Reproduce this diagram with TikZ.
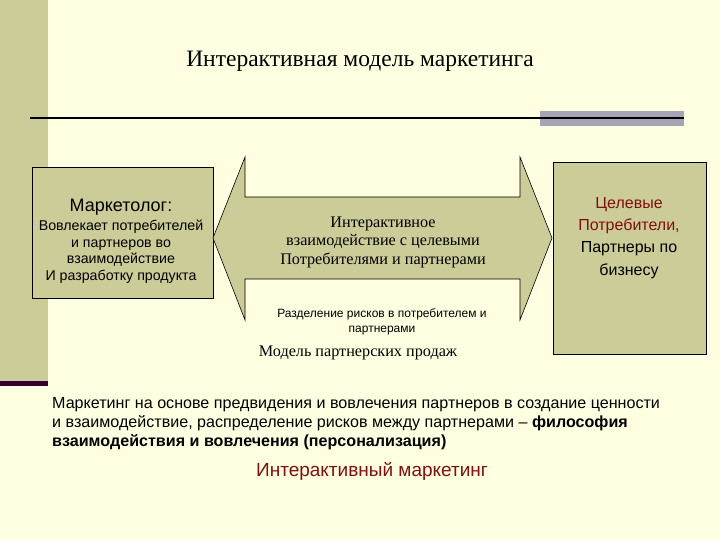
\documentclass[tikz,border=0pt]{standalone}
\usepackage{fontspec}
\setmainfont{Liberation Serif}
\setsansfont{Liberation Sans}
\definecolor{slidebg}{RGB}{255,255,225}
\definecolor{olive}{RGB}{204,204,153}
\definecolor{barGray}{RGB}{166,164,180}
\definecolor{darkPlum}{RGB}{51,0,51}
\definecolor{darkRed}{RGB}{128,16,16}

\begin{document}
\begin{tikzpicture}[x=1pt,y=-1pt,
    box/.style={draw=black,line width=1pt,fill=olive,inner sep=0pt},
    sanstext/.style={font=\sffamily\fontsize{14.2}{16.5}\selectfont,align=center,inner sep=0pt},
    seriftext/.style={font=\fontsize{16.2}{18.5}\selectfont,align=center,inner sep=0pt}]
	% slide background and decoration
	\useasboundingbox (0,0) rectangle (720,540);
	\fill[slidebg] (0,0) rectangle (720,540);
	\fill[olive] (0,0) rectangle (48,381);
	\fill[darkPlum] (0,381) rectangle (48,386);
	\fill[barGray] (540,111) rectangle (684,126);
	\draw[line width=2pt] (30,118) -- (684,118);

	\node[seriftext,font=\fontsize{23.5}{26}\selectfont] (title) at (360,61) {Интерактивная модель маркетинга};

	% left box
	\node[box,minimum width=181,minimum height=130] (marketer) at (122.5,233) {};
	\node[sanstext] (marketerText) at (121,241) {{\fontsize{18}{20}\selectfont Маркетолог:}\\[3pt]
		Вовлекает потребителей\\ и партнеров во\\ взаимодействие\\ И разработку продукта};

	% right box
	\node[box,minimum width=153,minimum height=191] (partners) at (629.5,258.5) {};
	\node[sanstext,font=\sffamily\fontsize{16}{22.3}\selectfont] (partnersText) at (629,238)
		{\textcolor{darkRed}{Целевые}\\ \textcolor{darkRed}{Потребители,}\\ Партнеры по\\ бизнесу};

	% double block arrow between the boxes
	\draw[fill=olive,line width=0.6pt] (213,238) -- (245,157) -- (245,197) -- (520,197) -- (520,157)
		-- (552,238) -- (520,320) -- (520,279) -- (245,279) -- (245,320) -- cycle;
	\node[seriftext] (talk) at (383,242) {Интерактивное\\ взаимодействие с целевыми\\ Потребителями и партнерами};
	\node[sanstext,font=\sffamily\fontsize{12}{15}\selectfont] (risk) at (382,322)
		{Разделение рисков в потребителем и\\ партнерами};
	\node[seriftext] (model) at (358,353) {Модель партнерских продаж};

	% text below
	\node[sanstext,font=\sffamily\fontsize{16.1}{19}\selectfont,align=left,anchor=west] (philosophy) at (52,424)
		{Маркетинг на основе предвидения и вовлечения партнеров в создание ценности\\
		 и взаимодействие, распределение рисков между партнерами – \textbf{философия}\\
		 \textbf{взаимодействия и вовлечения (персонализация)}};
	\node[sanstext,font=\sffamily\fontsize{19}{22}\selectfont,text=darkRed] (interactive) at (372,471) {Интерактивный маркетинг};
\end{tikzpicture}
\end{document}
